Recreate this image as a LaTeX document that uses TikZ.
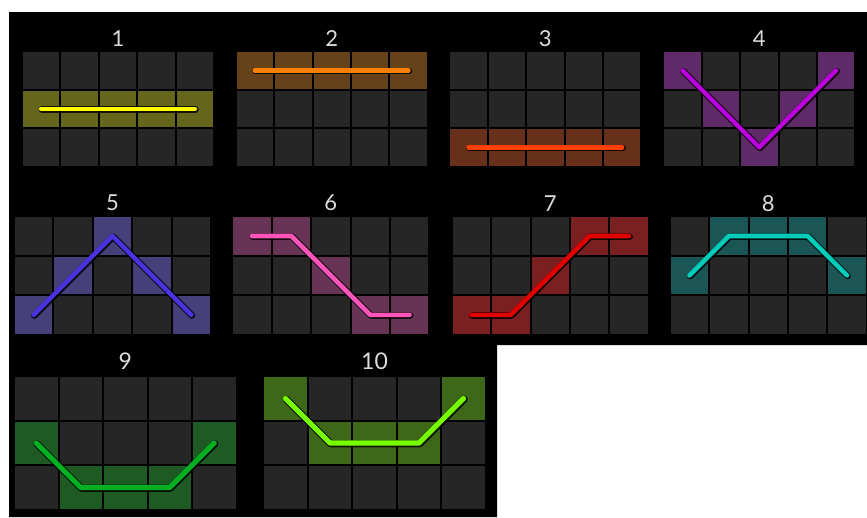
\documentclass[tikz,border=0pt]{standalone}
\usepackage{fontspec}
\setmainfont{Lato}
\definecolor{cellgray}{HTML}{262626}
\definecolor{labelgray}{HTML}{DCDCDC}
\definecolor{cA}{HTML}{65651C}\definecolor{lA}{HTML}{FFFF00}
\definecolor{cB}{HTML}{66421A}\definecolor{lB}{HTML}{FF8000}
\definecolor{cC}{HTML}{66301A}\definecolor{lC}{HTML}{FF4000}
\definecolor{cD}{HTML}{5E2A68}\definecolor{lD}{HTML}{BB00DD}
\definecolor{cE}{HTML}{45407A}\definecolor{lE}{HTML}{4B32E0}
\definecolor{cF}{HTML}{683455}\definecolor{lF}{HTML}{FF55BB}
\definecolor{cG}{HTML}{7A2020}\definecolor{lG}{HTML}{E00000}
\definecolor{cH}{HTML}{1C5555}\definecolor{lH}{HTML}{00CCBB}
\definecolor{cI}{HTML}{1D5A24}\definecolor{lI}{HTML}{00B020}
\definecolor{cJ}{HTML}{3E6819}\definecolor{lJ}{HTML}{77FF00}
% #1 font size, #2 x, #3 y, #4 pitch, #5 label, #6 cell colour, #7 line colour, #8 cells, #9 path
\newcommand{\slotpanel}[9]{%
\begin{scope}[shift={(#2,#3)}, x=#4pt, y=-#4pt]
  \pgfmathsetmacro\cs{1-2/#4}
  \pgfmathsetmacro\hc{0.5-1/#4}
  \pgfmathsetmacro\lw{0.115*#4}
  \foreach \c in {0,...,4} \foreach \r in {0,...,2}
    \fill[cellbg] (\c,\r) rectangle ++(\cs,\cs);
  \foreach \c/\r in {#8} \fill[#6] (\c,\r) rectangle ++(\cs,\cs);
  \node[panellabel] (L#5) at ({2.5-1/#4},-0.36) {\fontsize{#1}{#1}\selectfont #5};
  \draw[lineshadow, line width=\lw pt+2pt, shift={(\hc,\hc)}, xshift=0.7pt, yshift=-0.7pt] #9;
  \draw[payline, line width=\lw pt, draw=#7, shift={(\hc,\hc)}] #9;
\end{scope}}
\begin{document}
\begin{tikzpicture}[x=1pt,y=-1pt,
  cellbg/.style={fill=cellgray},
  panellabel/.style={text=labelgray, inner sep=0pt},
  payline/.style={line cap=round, line join=round},
  lineshadow/.style={line cap=round, line join=round, draw=black, opacity=0.8}]
\useasboundingbox (0,0) rectangle (867,517);
\fill[white] (0,0) rectangle (867,517);
\fill[black] (9,12) -- (867,12) -- (867,345) -- (497,345) -- (497,517) -- (9,517) -- cycle;
% row 1
\slotpanel{22}{23}{52.3}{38.4}{1}{cA}{lA}{0/1,1/1,2/1,3/1,4/1}{(0,1) -- (4,1)}
\slotpanel{22}{236.7}{52.3}{38.4}{2}{cB}{lB}{0/0,1/0,2/0,3/0,4/0}{(0,0) -- (4,0)}
\slotpanel{22}{450.3}{52.3}{38.4}{3}{cC}{lC}{0/2,1/2,2/2,3/2,4/2}{(0,2) -- (4,2)}
\slotpanel{22}{664.3}{52.3}{38.4}{4}{cD}{lD}{0/0,1/1,2/2,3/1,4/0}{(0,0) -- (2,2) -- (4,0)}
% row 2
\slotpanel{22}{15}{217.3}{39.4}{5}{cE}{lE}{0/2,1/1,2/0,3/1,4/2}{(0,2) -- (2,0) -- (4,2)}
\slotpanel{22}{233.3}{217.3}{39.4}{6}{cF}{lF}{0/0,1/0,2/1,3/2,4/2}{(0,0) -- (1,0) -- (3,2) -- (4,2)}
\slotpanel{22}{452.7}{217.3}{39.4}{7}{cG}{lG}{0/2,1/2,2/1,3/0,4/0}{(0,2) -- (1,2) -- (3,0) -- (4,0)}
\slotpanel{22}{670.7}{217.3}{39.4}{8}{cH}{lH}{0/1,1/0,2/0,3/0,4/1}{(0,1) -- (1,0) -- (3,0) -- (4,1)}
% row 3
\slotpanel{23}{15}{377.3}{44.5}{9}{cI}{lI}{0/1,1/2,2/2,3/2,4/1}{(0,1) -- (1,2) -- (3,2) -- (4,1)}
\slotpanel{23}{264.3}{377.3}{44.5}{10}{cJ}{lJ}{0/0,1/1,2/1,3/1,4/0}{(0,0) -- (1,1) -- (3,1) -- (4,0)}
\end{tikzpicture}
\end{document}
